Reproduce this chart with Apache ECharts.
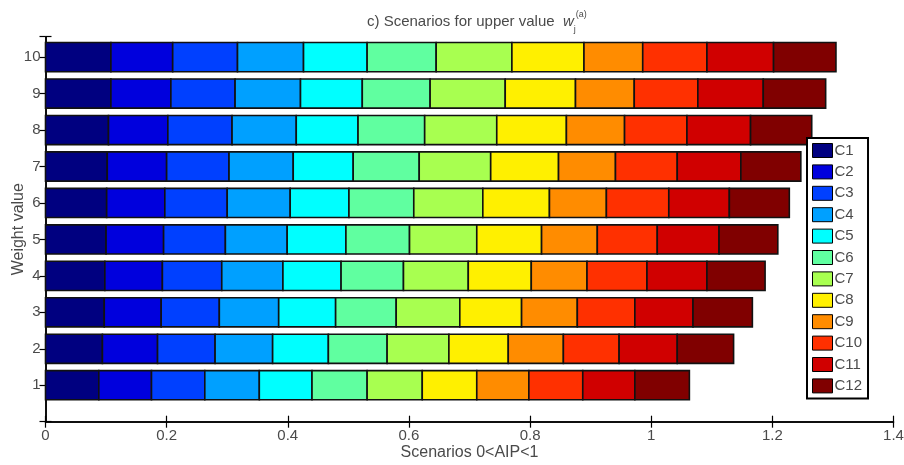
<!DOCTYPE html>
<html>
<head>
<meta charset="utf-8">
<script src="https://cdn.jsdelivr.net/npm/echarts@6/dist/echarts.min.js"></script>
<style>
  html, body { margin: 0; padding: 0; background: #fff; }
  #chart { width: 904px; height: 465px; }
</style>
</head>
<body>
<div id="chart"></div>
<script>
// Weight values on the vertical axis
const weights = [1, 2, 3, 4, 5, 6, 7, 8, 9, 10];
// Scenario names (stack order, left to right)
const scenarioNames = ['C1', 'C2', 'C3', 'C4', 'C5', 'C6', 'C7', 'C8', 'C9', 'C10', 'C11', 'C12'];
// Segment length of each scenario for weights 1..10
const c1  = [0.088, 0.094, 0.097, 0.098, 0.100, 0.101, 0.102, 0.104, 0.108, 0.108];
const c2  = [0.087, 0.091, 0.094, 0.095, 0.095, 0.096, 0.098, 0.098, 0.099, 0.102];
const c3  = [0.088, 0.095, 0.096, 0.098, 0.102, 0.103, 0.103, 0.106, 0.106, 0.107];
const c4  = [0.090, 0.095, 0.098, 0.101, 0.102, 0.104, 0.106, 0.106, 0.108, 0.109];
const c5  = [0.087, 0.092, 0.094, 0.096, 0.097, 0.097, 0.099, 0.102, 0.102, 0.105];
const c6  = [0.091, 0.097, 0.100, 0.103, 0.105, 0.107, 0.109, 0.110, 0.112, 0.114];
const c7  = [0.091, 0.102, 0.105, 0.107, 0.111, 0.114, 0.118, 0.119, 0.124, 0.125];
const c8  = [0.090, 0.098, 0.102, 0.104, 0.107, 0.110, 0.112, 0.115, 0.116, 0.119];
const c9  = [0.086, 0.091, 0.092, 0.092, 0.092, 0.094, 0.094, 0.096, 0.097, 0.097];
const c10 = [0.089, 0.092, 0.095, 0.099, 0.099, 0.103, 0.102, 0.103, 0.105, 0.106];
const c11 = [0.086, 0.096, 0.096, 0.099, 0.102, 0.100, 0.105, 0.105, 0.108, 0.110];
const c12 = [0.090, 0.093, 0.098, 0.096, 0.097, 0.099, 0.099, 0.101, 0.103, 0.103];
const scenarioValues = [c1, c2, c3, c4, c5, c6, c7, c8, c9, c10, c11, c12];

// Jet-like palette
const palette = ['#000080', '#0000dd', '#0040ff', '#00a0ff', '#00ffff', '#60ffa0',
                 '#a8ff50', '#fff000', '#ff8c00', '#ff3000', '#d00000', '#800000'];

// x-axis tick labels
const xTicks = [0, 0.2, 0.4, 0.6, 0.8, 1, 1.2, 1.4];

const FONT = '"Liberation Sans", Arial, Helvetica, sans-serif';
const TEXT = '#4a4a4a';

// Build stacked segments [weight, start, end]
const running = weights.map(() => 0);
const series = scenarioNames.map((name, k) => {
  const data = weights.map((w, i) => {
    const start = running[i];
    const end = start + scenarioValues[k][i];
    running[i] = end;
    return [w, start, end];
  });
  return {
    name: name,
    type: 'custom',
    color: palette[k],
    itemStyle: { color: palette[k], borderColor: '#000', borderWidth: 1 },
    encode: { x: [1, 2], y: 0 },
    data: data,
    renderItem: function (params, api) {
      const w = api.value(0);
      const p0 = api.coord([api.value(1), w]);
      const p1 = api.coord([api.value(2), w]);
      const h = api.size([0, 0.8])[1];
      return {
        type: 'rect',
        shape: { x: p0[0], y: p0[1] - h / 2, width: p1[0] - p0[0], height: h },
        style: { fill: api.visual('color'), stroke: '#111', lineWidth: 1.6 }
      };
    }
  };
});

const axisLine = { show: true, lineStyle: { color: '#000', width: 1.5 } };
const tickIn = { show: true, inside: true, length: 6, lineStyle: { color: '#000', width: 1.2 } };
const yTickIn = Object.assign({}, tickIn, {
  interval: (idx, v) => Number.isInteger(+v) && +v >= 1 && +v <= 10
});

const chart = echarts.init(document.getElementById('chart'), null, { renderer: 'canvas' });
chart.setOption({
  animation: false,
  backgroundColor: '#fff',
  title: {
    text: 'c) Scenarios for upper value  {w|w}{sub|j}{sup|(a)}',
    left: 362,
    top: 5,
    textStyle: {
      fontFamily: FONT, fontSize: 15, fontWeight: 'normal', color: TEXT,
      lineHeight: 24,
      rich: {
        w: { fontFamily: FONT, fontSize: 15, fontStyle: 'italic', color: TEXT },
        sub: { fontFamily: FONT, fontSize: 9, color: TEXT, verticalAlign: 'bottom', lineHeight: 24 },
        sup: { fontFamily: FONT, fontSize: 9, color: TEXT, verticalAlign: 'top', lineHeight: 24 }
      }
    }
  },
  legend: {
    orient: 'vertical',
    left: 807,
    top: 138,
    icon: 'rect',
    itemWidth: 20,
    itemHeight: 14,
    itemGap: 6.4,
    padding: [5, 6, 5, 5],
    backgroundColor: '#fff',
    borderColor: '#000',
    borderWidth: 2,
    selectedMode: false,
    itemStyle: { borderColor: '#000', borderWidth: 1 },
    textStyle: { fontFamily: FONT, fontSize: 15, color: TEXT, padding: [0, 0, 0, -3] },
    data: scenarioNames
  },
  grid: { left: 45.5, right: 10.5, top: 36.7, bottom: 43.3, containLabel: false, outerBoundsMode: 'none' },
  xAxis: [
    {
      type: 'value', position: 'bottom',
      min: xTicks[0], max: xTicks[xTicks.length - 1], interval: 0.2,
      axisLine: axisLine, axisTick: tickIn, splitLine: { show: false },
      axisLabel: { fontFamily: FONT, fontSize: 15, color: TEXT, margin: 7,
                   formatter: v => String(+v.toFixed(1)) },
      name: 'Scenarios 0<AIP<1', nameLocation: 'middle', nameGap: 23, nameMoveOverlap: false,
      nameTextStyle: { fontFamily: FONT, fontSize: 16, color: TEXT }
    },
    {
      type: 'value', position: 'top',
      min: xTicks[0], max: xTicks[xTicks.length - 1], interval: 0.2,
      axisLine: axisLine, axisTick: tickIn, splitLine: { show: false },
      axisLabel: { show: false }
    }
  ],
  yAxis: [
    {
      type: 'value', position: 'left',
      min: 0, max: 10.56, interval: 1,
      axisLine: axisLine, axisTick: yTickIn, splitLine: { show: false },
      axisLabel: {
        fontFamily: FONT, fontSize: 15, color: TEXT, margin: 5,
        formatter: v => (Number.isInteger(v) && v >= 1 && v <= 10) ? String(v) : ''
      },
      name: 'Weight value', nameLocation: 'middle', nameGap: 19, nameRotate: 90,
      nameMoveOverlap: false,
      nameTextStyle: { fontFamily: FONT, fontSize: 16, color: TEXT }
    },
    {
      type: 'value', position: 'right',
      min: 0, max: 10.56, interval: 1,
      axisLine: axisLine, axisTick: yTickIn, splitLine: { show: false },
      axisLabel: { show: false }
    }
  ],
  series: series
});
</script>
</body>
</html>
